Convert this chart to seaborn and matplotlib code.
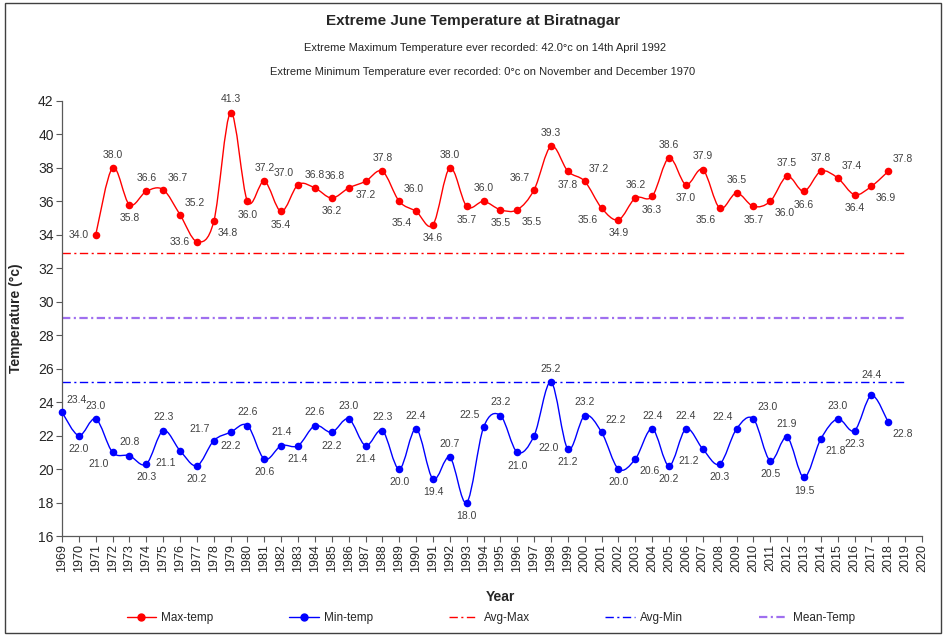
"""
Extreme June Temperature at Biratnagar (max / min por ano + médias)
"""

import numpy as np
import matplotlib
matplotlib.use("Agg")
import matplotlib.pyplot as plt
from matplotlib.path import Path
from matplotlib.patches import PathPatch, Rectangle
from matplotlib.lines import Line2D
import seaborn as sns

# ---- dados ----
YEARS_MAX = list(range(1971, 2019))
MAX_TEMP = [34.0, 38.0, 35.8, 36.6, 36.7, 35.2, 33.6, 34.8, 41.3, 36.0,
            37.2, 35.4, 37.0, 36.8, 36.2, 36.8, 37.2, 37.8, 36.0, 35.4,
            34.6, 38.0, 35.7, 36.0, 35.5, 35.5, 36.7, 39.3, 37.8, 37.2,
            35.6, 34.9, 36.2, 36.3, 38.6, 37.0, 37.9, 35.6, 36.5, 35.7,
            36.0, 37.5, 36.6, 37.8, 37.4, 36.4, 36.9, 37.8]

YEARS_MIN = list(range(1969, 2019))
MIN_TEMP = [23.4, 22.0, 23.0, 21.0, 20.8, 20.3, 22.3, 21.1, 20.2, 21.7,
            22.2, 22.6, 20.6, 21.4, 21.4, 22.6, 22.2, 23.0, 21.4, 22.3,
            20.0, 22.4, 19.4, 20.7, 18.0, 22.5, 23.2, 21.0, 22.0, 25.2,
            21.2, 23.2, 22.2, 20.0, 20.6, 22.4, 20.2, 22.4, 21.2, 20.3,
            22.4, 23.0, 20.5, 21.9, 19.5, 21.8, 23.0, 22.3, 24.4, 22.8]

AVG_MAX = 32.9
AVG_MIN = 25.2
MEAN_TEMP = 29.0
AVG_YEARS = (1969, 2019)

YEAR_TICKS = list(range(1969, 2021))
TEMP_TICKS = list(range(16, 43, 2))

# posição dos rótulos (a=acima, b=abaixo, l/r=lado)
MAX_LABEL_POS = ["l", "a", "b", "a", "ar", "ar", "l", "br", "a", "b",
                 "a", "b", "al", "a", "b", "al", "b", "a", "ar", "bl",
                 "b", "a", "b", "a", "b", "br", "al", "a", "b", "ar",
                 "bl", "b", "a", "b", "a", "b", "a", "bl", "a", "b",
                 "br", "a", "b", "a", "ar", "b", "br", "ar"]
MIN_LABEL_POS = ["ar", "b", "a", "bl", "a", "b", "a", "bl", "b", "al",
                 "b", "a", "b", "a", "b", "a", "b", "a", "b", "a",
                 "b", "a", "b", "a", "b", "al", "a", "b", "br", "a",
                 "b", "a", "ar", "b", "br", "a", "b", "a", "bl", "b",
                 "al", "ar", "b", "a", "b", "br", "a", "b", "aa", "br"]

OFFSETS = {
    "a": (0, 6, "center", "bottom"),
    "aa": (0, 11, "center", "bottom"),
    "b": (0, -6, "center", "top"),
    "l": (-5, 0, "right", "center"),
    "r": (5, 0, "left", "center"),
    "ar": (3, 5, "left", "bottom"),
    "al": (-3, 5, "right", "bottom"),
    "br": (3, -5, "left", "top"),
    "bl": (-3, -5, "right", "top"),
}

RED = "#FF0000"
BLUE = "#0000FF"
PURPLE = "#9F6FEF"

sns.set_theme(style="white")
plt.rcParams["font.family"] = ["Liberation Sans", "DejaVu Sans"]
plt.rcParams["lines.scale_dashes"] = False

DASHDOT = (0, (6, 2.5, 1.5, 2.5))


def smooth_path(xs, ys):
    # curva suave tipo Excel (bezier catmull-rom)
    pts = np.column_stack([xs, ys]).astype(float)
    n = len(pts)
    verts = [pts[0]]
    codes = [Path.MOVETO]
    for i in range(n - 1):
        p0 = pts[i - 1] if i > 0 else pts[i]
        p1 = pts[i]
        p2 = pts[i + 1]
        p3 = pts[i + 2] if i + 2 < n else pts[i + 1]
        verts += [p1 + (p2 - p0) / 6, p2 - (p3 - p1) / 6, p2]
        codes += [Path.CURVE4] * 3
    return Path(verts, codes)


def draw_series(ax, xs, ys, color, positions):
    ax.add_patch(PathPatch(smooth_path(xs, ys), facecolor="none",
                           edgecolor=color, lw=1.0, zorder=3))
    sns.scatterplot(x=xs, y=ys, ax=ax, color=color, s=30, edgecolor=color,
                    linewidth=0, zorder=4, clip_on=False, legend=False)
    for x, y, pos in zip(xs, ys, positions):
        dx, dy, ha, va = OFFSETS[pos]
        ax.annotate(f"{y:.1f}", (x, y), xytext=(dx, dy), textcoords="offset points",
                    ha=ha, va=va, fontsize=7.5, color="#404040")


fig = plt.figure(figsize=(9.46, 6.36), dpi=100)
ax = fig.add_axes([62 / 946, 100 / 636, 860 / 946, 435 / 636])

ax.hlines(AVG_MAX, *AVG_YEARS, color=RED, lw=1.0, linestyles=[DASHDOT], zorder=2)
ax.hlines(MEAN_TEMP, *AVG_YEARS, color=PURPLE, lw=1.6, linestyles=[DASHDOT], zorder=2)
ax.hlines(AVG_MIN, *AVG_YEARS, color=BLUE, lw=1.0, linestyles=[DASHDOT], zorder=2)

draw_series(ax, YEARS_MAX, MAX_TEMP, RED, MAX_LABEL_POS)
draw_series(ax, YEARS_MIN, MIN_TEMP, BLUE, MIN_LABEL_POS)

ax.set_xlim(1969, 2020)
ax.set_ylim(16, 42)
ax.set_xticks(YEAR_TICKS)
ax.set_xticklabels([str(y) for y in YEAR_TICKS], rotation=90, fontsize=9)
ax.set_yticks(TEMP_TICKS)
ax.set_yticklabels([str(t) for t in TEMP_TICKS], fontsize=10)
ax.tick_params(axis="both", direction="out", length=4, width=0.8,
               color="#595959", bottom=True, left=True, pad=2)
for side in ["top", "right"]:
    ax.spines[side].set_visible(False)
for side in ["left", "bottom"]:
    ax.spines[side].set_color("#595959")
    ax.spines[side].set_linewidth(0.9)

ax.set_ylabel("Temperature (°c)", fontsize=10, fontweight="bold")
ax.yaxis.set_label_coords(-0.045, 0.5)
ax.set_xlabel("Year", fontsize=10, fontweight="bold")
ax.xaxis.set_label_coords(0.51, -0.125)

fig.text(473 / 946, 1 - 21 / 636, "Extreme June Temperature at Biratnagar",
         ha="center", va="center", fontsize=11, fontweight="bold")
fig.text(485 / 946, 1 - 48 / 636,
         "Extreme Maximum Temperature ever recorded: 42.0°c on 14th April 1992",
         ha="center", va="center", fontsize=8)
fig.text(483 / 946, 1 - 72 / 636,
         "Extreme Minimum Temperature ever recorded: 0°c on November and December 1970",
         ha="center", va="center", fontsize=8)

handles = [
    Line2D([], [], color=RED, lw=1.0, marker="o", markersize=5),
    Line2D([], [], color=BLUE, lw=1.0, marker="o", markersize=5),
    Line2D([], [], color=RED, lw=1.0, linestyle=DASHDOT),
    Line2D([], [], color=BLUE, lw=1.0, linestyle=DASHDOT),
    Line2D([], [], color=PURPLE, lw=1.6, linestyle=DASHDOT),
]
labels = ["Max-temp", "Min-temp", "Avg-Max", "Avg-Min", "Mean-Temp"]
fig.legend(handles, labels, loc="center", bbox_to_anchor=(491 / 946, 1 - 618 / 636),
           ncol=5, frameon=False, fontsize=8.5, handlelength=2.5, handletextpad=0.45,
           columnspacing=6.4, labelcolor="#262626")

fig.add_artist(Rectangle((5 / 946, 3 / 636), 936 / 946, 630 / 636, transform=fig.transFigure,
                         fill=False, edgecolor="#404040", lw=1.0))

fig.savefig("out.png", dpi=100)
plt.close(fig)
